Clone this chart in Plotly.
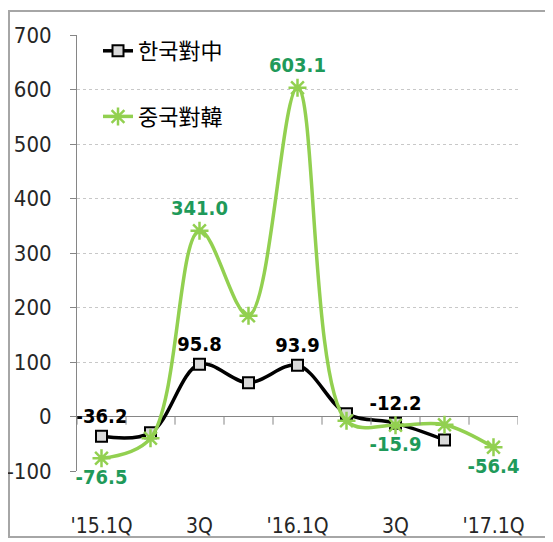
import plotly.graph_objects as go

categories = ["'15.1Q", "'15.2Q", "'15.3Q", "'15.4Q", "'16.1Q", "'16.2Q", "'16.3Q", "'16.4Q", "'17.1Q"]
tick_cats = ["'15.1Q", "'15.3Q", "'16.1Q", "'16.3Q", "'17.1Q"]
tick_text = ["'15.1Q", "3Q", "'16.1Q", "3Q", "'17.1Q"]

korea_name = "한국對中"
korea_vals = [-36.2, -30, 95.8, 62, 93.9, 5, -12.2, -43, None]
korea_labels = ["-36.2", "", "95.8", "", "93.9", "", "-12.2", "", ""]

china_name = "중국對韓"
china_vals = [-76.5, -40, 341.0, 185, 603.1, -8, -15.9, -15, -56.4]
china_labels = ["-76.5", "", "341.0", "", "603.1", "", "-15.9", "", "-56.4"]

y_ticks = [-100, 0, 100, 200, 300, 400, 500, 600, 700]
y_tick_text = [str(v) for v in y_ticks]

# The page body has an 8px default margin, so the figure is drawn 8px in.
OFF = 8
W, H = 553 - OFF, 542 - OFF
# plot area in viewport pixels: x 77..518, y 35..471
L, T = 77 - OFF, 35 - OFF
R, B = W - (518 - OFF), H - (471 - OFF)
pw, ph = W - L - R, H - T - B

def px_x(p):  # viewport pixel -> paper x
    return (p - OFF - L) / pw

def px_y(p):  # viewport pixel -> paper y
    return (H - B - (p - OFF)) / ph

NARROW = "DejaVu Sans Condensed, Liberation Sans Narrow, Arial Narrow, sans-serif"

fig = go.Figure()

fig.add_trace(go.Scatter(
    x=categories, y=korea_vals, name=korea_name,
    mode="lines+markers+text",
    line=dict(color="#000000", width=3.5, shape="spline", smoothing=1.0),
    marker=dict(symbol="square", size=11, color="#d9d9d9", line=dict(color="#000000", width=2)),
    text=korea_labels,
    textposition=["top center"] * len(categories),
    textfont=dict(family=NARROW, size=20, color="#000000", weight="bold"),
    cliponaxis=False, legendgroup="k",
))

fig.add_trace(go.Scatter(
    x=categories, y=china_vals, name=china_name,
    mode="lines+markers+text",
    line=dict(color="#92d050", width=3.5, shape="spline", smoothing=1.0),
    marker=dict(symbol="asterisk-open", size=15, color="#92d050", line=dict(color="#7cc23a", width=2.5)),
    text=china_labels,
    textposition=["bottom center", "top center", "top center", "top center", "top center",
                  "top center", "bottom center", "top center", "bottom center"],
    textfont=dict(family=NARROW, size=20, color="#1f9a5a", weight="bold"),
    cliponaxis=False, legendgroup="c",
))

# category boundary tick marks on the zero line
for i in range(len(categories) + 1):
    fig.add_shape(type="line", xref="x", yref="y",
                  x0=i - 0.5, x1=i - 0.5, y0=0, y1=-15,
                  line=dict(color="#868686", width=1))

# outer frame
fig.add_shape(type="rect", xref="paper", yref="paper",
              x0=px_x(9), x1=px_x(570), y0=px_y(537), y1=px_y(11),
              line=dict(color="#a6a6a6", width=2), layer="below")

fig.update_layout(
    width=W, height=H,
    margin=dict(l=L, r=R, t=T, b=B, autoexpand=False),
    paper_bgcolor="white", plot_bgcolor="white",
    showlegend=True,
    legend=dict(x=px_x(98), y=px_y(30), xanchor="left", yanchor="top",
                font=dict(family="Noto Sans CJK KR", size=22, color="#000000"),
                bgcolor="rgba(0,0,0,0)", tracegroupgap=34, itemwidth=30),
    xaxis=dict(type="category", categoryorder="array", categoryarray=categories,
               range=[-0.5, len(categories) - 0.5],
               tickvals=tick_cats, ticktext=tick_text, automargin=False,
               showline=False, showgrid=False, ticks="", zeroline=False,
               ticklabelstandoff=40,
               tickfont=dict(family=NARROW, size=21, color="#262626")),
    yaxis=dict(range=[-100, 700], tickvals=y_ticks, ticktext=y_tick_text, automargin=False,
               showline=True, linecolor="#868686", linewidth=1,
               ticks="outside", ticklen=6, tickcolor="#868686",
               showgrid=True, gridcolor="#c8c8c8", griddash="dot", gridwidth=1,
               zeroline=True, zerolinecolor="#868686", zerolinewidth=1,
               ticklabelstandoff=14,
               tickfont=dict(family=NARROW, size=22, color="#262626")),
)

fig.write_html("out.html")
